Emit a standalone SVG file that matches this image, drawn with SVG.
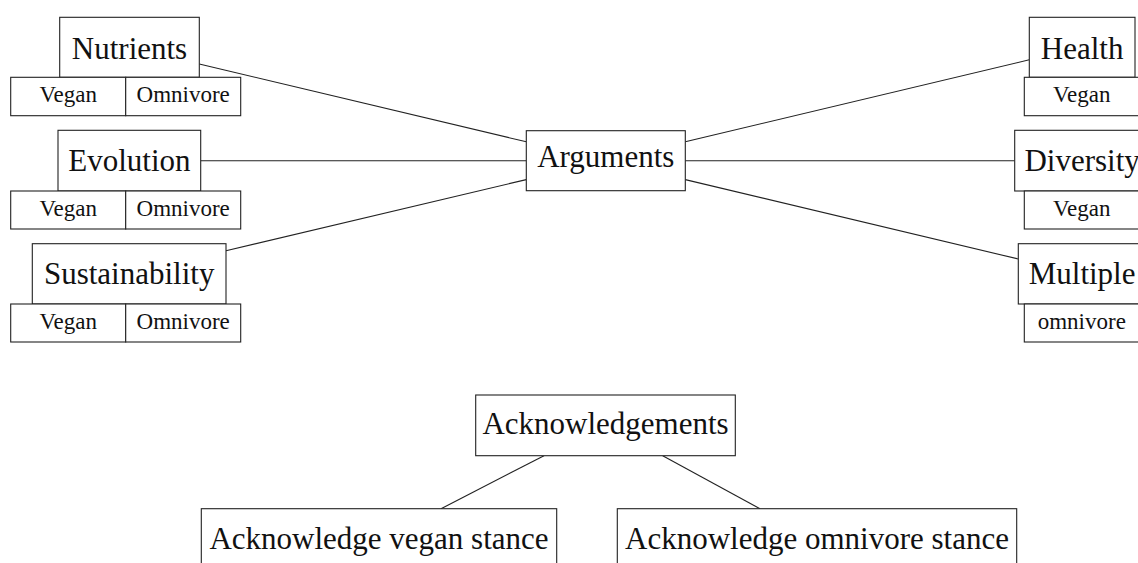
<svg xmlns="http://www.w3.org/2000/svg" width="1138" height="563" viewBox="0 0 1138 563">
<style>
rect{fill:#fff;stroke:#222;stroke-width:1.1}
.c line{stroke:#222;stroke-width:1.1}
text{font-family:"Liberation Serif","Times New Roman",serif;fill:#111;text-anchor:middle}
.m{font-size:31px}
.s{font-size:23px}
</style>
<rect x="0" y="0" width="1138" height="563" style="stroke:none"/>
<g class="c" id="connectors">
<line x1="199.3" y1="64" x2="526.3" y2="141.8"/>
<line x1="200.7" y1="160.7" x2="526.3" y2="160.7"/>
<line x1="226" y1="250.8" x2="526.3" y2="179.6"/>
<line x1="685.3" y1="141.8" x2="1029.3" y2="59.8"/>
<line x1="685.3" y1="160.7" x2="1014.7" y2="160.7"/>
<line x1="685.3" y1="179.6" x2="1018.3" y2="259"/>
<line x1="544" y1="455.7" x2="441" y2="508.7"/>
<line x1="662.7" y1="455.7" x2="760" y2="508.7"/>
</g>
<g id="nutrients">
<rect x="59.7" y="17.3" width="139.6" height="60"/>
<text class="m" x="129.5" y="58.5">Nutrients</text>
<rect x="10.7" y="77.3" width="115" height="38.4"/>
<rect x="125.7" y="77.3" width="115" height="38.4"/>
<text class="s" x="68.2" y="101.8">Vegan</text>
<text class="s" x="183.2" y="101.8">Omnivore</text>
</g>
<g id="evolution">
<rect x="58" y="130.3" width="142.7" height="60.7"/>
<text class="m" x="129.4" y="171.2">Evolution</text>
<rect x="10.7" y="191" width="115" height="38"/>
<rect x="125.7" y="191" width="115" height="38"/>
<text class="s" x="68.2" y="215.7">Vegan</text>
<text class="s" x="183.2" y="215.7">Omnivore</text>
</g>
<g id="sustainability">
<rect x="32.3" y="243.7" width="193.7" height="60.3"/>
<text class="m" x="129.2" y="284.1">Sustainability</text>
<rect x="10.7" y="304" width="115" height="38"/>
<rect x="125.7" y="304" width="115" height="38"/>
<text class="s" x="68.2" y="329.4">Vegan</text>
<text class="s" x="183.2" y="329.4">Omnivore</text>
</g>
<g id="arguments">
<rect x="526.3" y="130.7" width="159" height="60"/>
<text class="m" x="605.8" y="167.1">Arguments</text>
</g>
<g id="health">
<rect x="1029.3" y="17.3" width="105.7" height="60"/>
<text class="m" x="1082.1" y="58.5">Health</text>
<rect x="1024.3" y="77.3" width="115" height="38.4"/>
<text class="s" x="1081.8" y="101.8">Vegan</text>
</g>
<g id="diversity">
<rect x="1014.7" y="130.3" width="134.8" height="60.7"/>
<text class="m" x="1082.1" y="171.2">Diversity</text>
<rect x="1024.3" y="191" width="115" height="38"/>
<text class="s" x="1081.8" y="215.7">Vegan</text>
</g>
<g id="multiple">
<rect x="1018.3" y="243.7" width="127.6" height="60.3"/>
<text class="m" x="1082.1" y="284.1">Multiple</text>
<rect x="1024.3" y="304" width="115" height="38"/>
<text class="s" x="1081.8" y="329.4">omnivore</text>
</g>
<g id="acknowledgements">
<rect x="475.7" y="395" width="259.6" height="60.7"/>
<text class="m" x="605.5" y="433.7">Acknowledgements</text>
</g>
<g id="ack-vegan">
<rect x="201.3" y="508.7" width="355.4" height="62"/>
<text class="m" x="379" y="548.5">Acknowledge vegan stance</text>
</g>
<g id="ack-omnivore">
<rect x="617.3" y="508.7" width="399.4" height="62"/>
<text class="m" x="817" y="548.5">Acknowledge omnivore stance</text>
</g>
</svg>
